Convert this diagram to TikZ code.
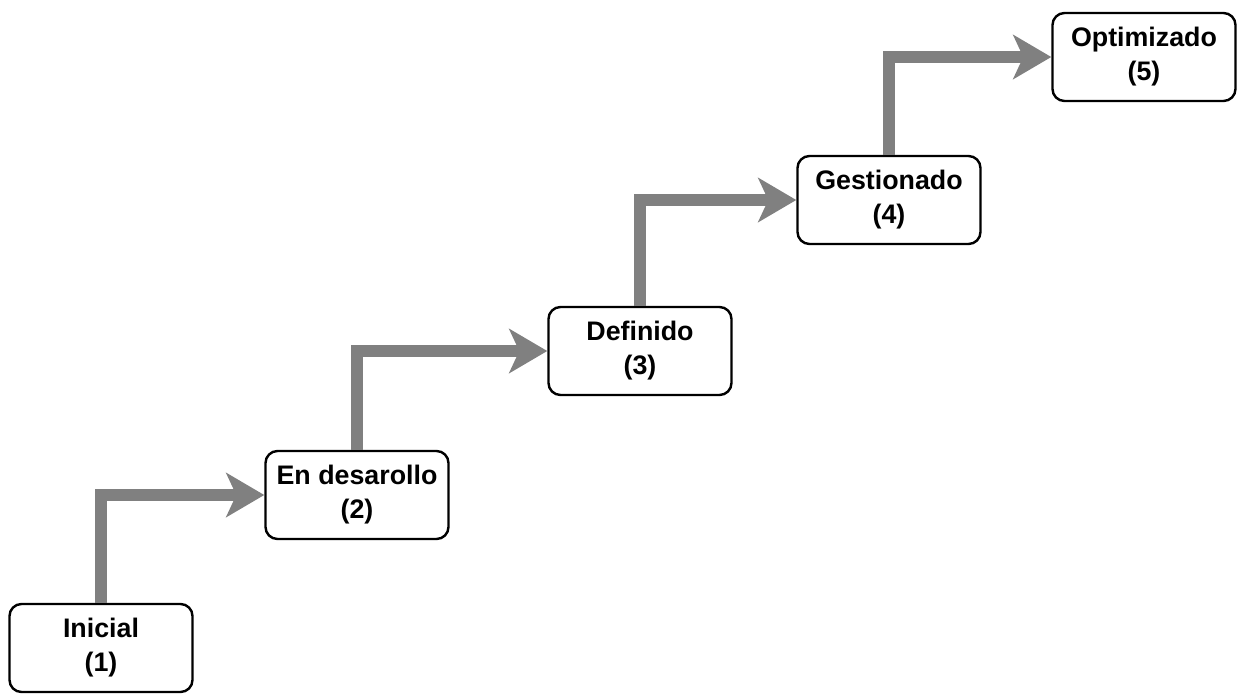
\documentclass[tikz,border=0pt]{standalone}
\usepackage{fontspec}
\setmainfont{Liberation Sans}
\usetikzlibrary{arrows.meta}
\newcommand{\levelScale}[0]{0.5pt}
\newcommand{\levelFont}[0]{\fontsize{13.4pt}{17pt}\selectfont\bfseries}
\definecolor{stepgray}{HTML}{808080}

\begin{document}
\begin{tikzpicture}[x=\levelScale, y=-\levelScale]
  \tikzset{level box/.style={draw, line width=1.2pt, rounded corners=6pt, fill=white,
      minimum width=91.5pt, minimum height=44pt, align=center, font=\levelFont},
    level arrow/.style={stepgray, line width=6pt,
      -{Stealth[length=19pt, width=22pt, inset=5pt]}}}
  \useasboundingbox (0,0) rectangle (1238,698);
  \node[level box](L-1) at (101,648){Inicial\\(1)};
  \node[level box](L-2) at (357,495){En desarollo\\(2)};
  \node[level box](L-3) at (640,351){Definido\\(3)};
  \node[level box](L-4) at (889,200){Gestionado\\(4)};
  \node[level box](L-5) at (1144,57){Optimizado\\(5)};
  \draw[level arrow] (L-1.north) |- (L-2.west);
  \draw[level arrow] (L-2.north) |- (L-3.west);
  \draw[level arrow] (L-3.north) |- (L-4.west);
  \draw[level arrow] (L-4.north) |- (L-5.west);
\end{tikzpicture}
\end{document}
